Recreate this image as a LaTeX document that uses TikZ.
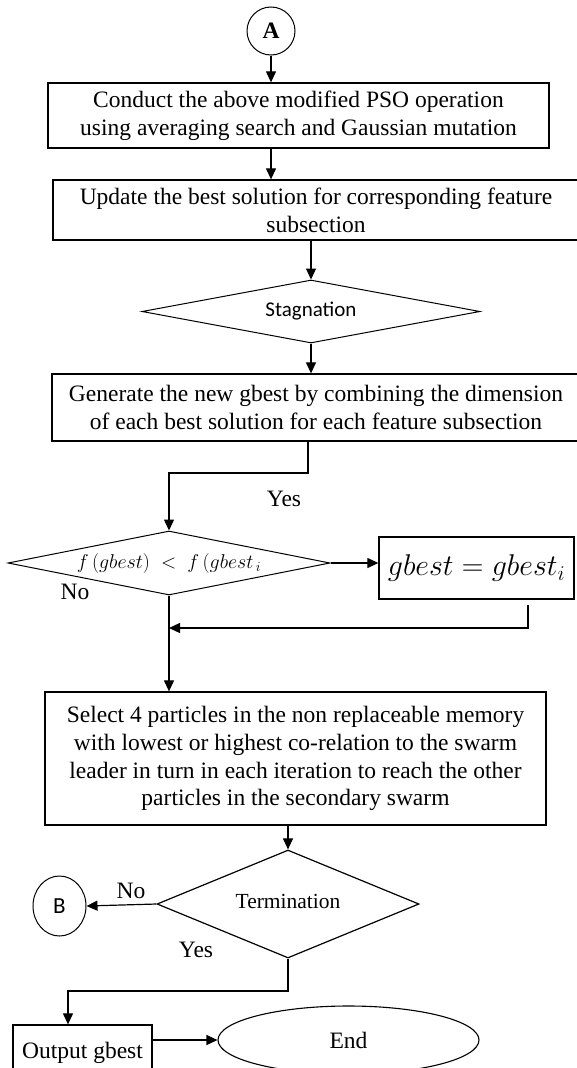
\RequirePackage{fix-cm}
\documentclass[tikz,border=0pt]{standalone}
\usepackage{amsmath}
\usepackage{fontspec}
\setmainfont{Liberation Serif}
\newfontfamily\calibri{Carlito}
\usetikzlibrary{shapes.geometric,arrows.meta}

\begin{document}
\begin{tikzpicture}[x=1pt,y=-1pt,
		font=\fontsize{23.5}{27.8}\selectfont,
		box/.style={draw,line width=1.3pt,align=center,inner sep=0pt},
		cond/.style={draw,diamond,line width=1pt,inner sep=0pt,align=center},
		conn/.style={draw,ellipse,line width=1pt,inner sep=0pt},
		arr/.style={line width=1.2pt,-{Triangle[length=11pt,width=10pt]}},
		lab/.style={inner sep=0pt}]
		% 绘制边界
		\path[use as bounding box] (0,0) rectangle (577,1068);
		\clip (0,0) rectangle (577,1068);
		% 绘制节点
		\node[conn,minimum width=48pt,minimum height=48pt,font=\fontsize{23.5}{27.8}\selectfont\bfseries] (A) at (271,31) {A};
		\node[box,minimum width=501pt,minimum height=65pt] (conduct) at (298.5,115.5)
			{Conduct the above modified PSO operation\\using averaging search and Gaussian mutation};
		\node[box,minimum width=526pt,minimum height=60pt] (update) at (316,210)
			{Update the best solution for corresponding feature\\subsection};
		\node[cond,aspect=5.4,minimum width=338pt,minimum height=63pt,font=\calibri\fontsize{21}{24}\selectfont] (stag) at (311,311.5) {Stagnation};
		\node[box,minimum width=528pt,minimum height=67pt] (gen) at (316,407.5)
			{Generate the new gbest by combining the dimension\\of each best solution for each feature subsection};
		\node[cond,aspect=5,minimum width=322pt,minimum height=64pt,font=\fontsize{20}{24}\selectfont] (cmp) at (169,563) {$f\,(gbest)\;<\;f\,(gbest_{\,i}$};
		\node[box,minimum width=195pt,minimum height=62pt,font=\fontsize{30}{34}\selectfont] (upd) at (476.5,568) {$gbest = gbest_{i}$};
		\node[box,minimum width=501pt,minimum height=133pt] (sel) at (295.5,758.5)
			{Select 4 particles in the non replaceable memory\\with lowest or highest co-relation to the swarm\\leader in turn in each iteration to reach the other\\particles in the secondary swarm};
		\node[cond,aspect=2.4,line width=1.2pt,minimum width=262pt,minimum height=108pt,font=\fontsize{21.5}{25}\selectfont] (term) at (288,904) {\raisebox{5pt}{Termination}};
		\node[conn,minimum width=53pt,minimum height=60pt,font=\calibri\fontsize{23}{26}\selectfont] (B) at (59.5,906) {B};
		\node[box,minimum width=139pt,minimum height=56pt] (out) at (82.5,1053) {Output gbest};
		\node[conn,line width=1.1pt,minimum width=261pt,minimum height=68pt] (end) at (348.5,1040) {End};
		% 绘制标签
		\node[lab] (yes1) at (284,499) {Yes};
		\node[lab] (no1) at (75,592) {No};
		\node[lab] (no2) at (131,891) {No};
		\node[lab] (yes2) at (196,950) {Yes};
		% 绘制连线
		\coordinate (j1) at (308,473);
		\coordinate (j2) at (528,605);
		\coordinate (j3) at (528,628);
		\coordinate (j4) at (68,991);
		\draw[arr] (A.south) -- (A.south |- conduct.north);
		\draw[arr] (conduct.south -| A) -- (update.north -| A);
		\draw[arr] (stag.north |- update.south) -- (stag.north);
		\draw[arr] (stag.south) -- (stag.south |- gen.north);
		\draw[arr] (gen.south -| j1) -- (j1) -| (cmp.north);
		\draw[arr] (cmp.east) -- (cmp.east -| upd.west);
		\draw[arr] (j2) -- (j3) -- (j3 -| cmp.south);
		\draw[arr] (cmp.south) -- (cmp.south |- sel.north);
		\draw[arr] (term.north |- sel.south) -- (term.north);
		\draw[arr] (term.west) -- (B.east);
		\draw[arr] (term.south) |- (j4) -- (j4 |- out.north);
		\draw[arr] (out.east |- end.west) -- (end.west);
	\end{tikzpicture}
\end{document}
